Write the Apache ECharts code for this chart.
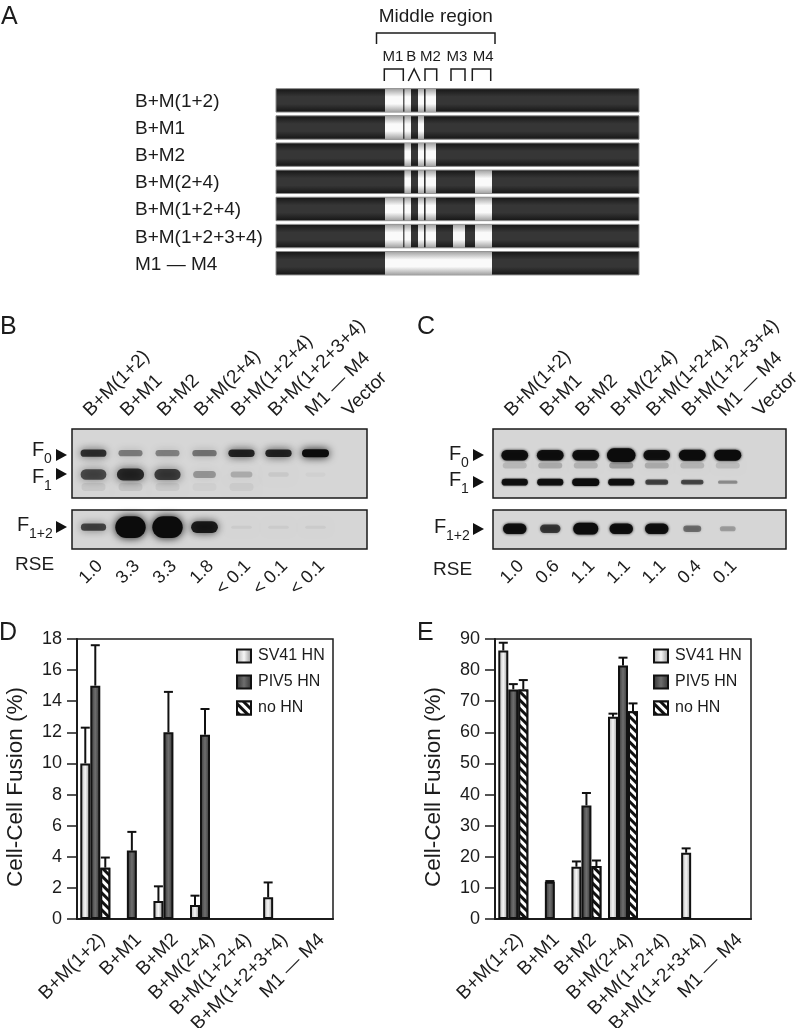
<!DOCTYPE html>
<html>
<head>
<meta charset="utf-8">
<style>html,body{margin:0;padding:0;background:#fff}#main{width:800px;height:1028px}</style>
<script src="https://cdn.jsdelivr.net/npm/echarts@6/dist/echarts.min.js"></script>
</head>
<body>
<div id="main"></div>
<script>
const FONT = '"Liberation Sans", Arial, sans-serif';
const INK = '#1c1c1c';

// panel A
const constructs = ['B+M(1+2)', 'B+M1', 'B+M2', 'B+M(2+4)', 'B+M(1+2+4)', 'B+M(1+2+3+4)', 'M1 — M4'];
const regionSpans = { M1: [109, 127.2], B1: [128.4, 135], B2: [142, 148], M2: [149.6, 160], M3: [177, 189], M4: [199, 216], all: [109, 216] };
const constructRegions = [
	['M1', 'B1', 'B2', 'M2'],
	['M1', 'B1', 'B2'],
	['B1', 'B2', 'M2'],
	['B1', 'B2', 'M2', 'M4'],
	['M1', 'B1', 'B2', 'M2', 'M4'],
	['M1', 'B1', 'B2', 'M2', 'M3', 'M4'],
	['all']
];
const proteinLength = 363;
const middleRegion = [100.5, 219];
const headNames = ['M1', 'B', 'M2', 'M3', 'M4'];
const headCenters = [117, 135.3, 154.5, 181, 207.2];
const headSpans = [[108.3, 127.3], [132.3, 144], [149, 160.7], [175, 189], [196.3, 214.7]];

// panels B and C
const lanes = ['B+M(1+2)', 'B+M1', 'B+M2', 'B+M(2+4)', 'B+M(1+2+4)', 'B+M(1+2+3+4)', 'M1 — M4', 'Vector'];
const rseB = ['1.0', '3.3', '3.3', '1.8', '< 0.1', '< 0.1', '< 0.1', ''];
const rseC = ['1.0', '0.6', '1.1', '1.1', '1.1', '0.4', '0.1', ''];
const bF0 = [0.78, 0.42, 0.4, 0.46, 0.85, 0.85, 1, 0];
const bF1 = [0.72, 0.9, 0.78, 0.34, 0.22, 0.07, 0.03, 0];
const bF12 = [0.65, 1.3, 1.3, 0.85, 0.05, 0.05, 0.05, 0];
const bSmear = [0.07, 0.08, 0.06, 0.03, 0.05, 0, 0, 0];
const cF0 = [0.95, 0.95, 0.95, 1.3, 0.92, 0.98, 1, 0];
const cF1 = [0.92, 0.92, 1, 0.92, 0.62, 0.6, 0.32, 0];
const cF12 = [0.95, 0.68, 1.1, 0.95, 0.95, 0.45, 0.26, 0];
const cSmear = [0.14, 0.2, 0.17, 0.26, 0.2, 0.16, 0.12, 0];

// panels D and E
const categories = ['B+M(1+2)', 'B+M1', 'B+M2', 'B+M(2+4)', 'B+M(1+2+4)', 'B+M(1+2+3+4)', 'M1 — M4'];
const dSv41 = [10, null, 1.15, 0.9, null, 1.4, null];
const dSv41Top = [12.3, null, 2.1, 1.5, null, 2.35, null];
const dPiv5 = [15, 4.4, 12, 11.85, null, null, null];
const dPiv5Top = [17.6, 5.6, 14.6, 13.5, null, null, null];
const dNoHn = [3.3, null, null, null, null, null, null];
const dNoHnTop = [3.95, null, null, null, null, null, null];
const eSv41 = [86.3, null, 16.8, 65, null, 21.3, null];
const eSv41Top = [88.8, null, 18.5, 66, null, 22.7, null];
const ePiv5 = [73.8, 12, 36.5, 81.5, null, null, null];
const ePiv5Top = [75.5, 12.2, 40.5, 84, null, null, null];
const eNoHn = [73.8, null, 17, 66.8, null, null, null];
const eNoHnTop = [76.8, null, 18.8, 69.3, null, null, null];

const BAR_W = 10;
const grid = [], xAxis = [], yAxis = [], series = [], graphic = [];

const vGrad = (a, b) => ({ type: 'linear', x: 0, y: 0, x2: 0, y2: 1, colorStops: [{ offset: 0, color: a }, { offset: 0.35, color: b }, { offset: 0.65, color: b }, { offset: 1, color: a }] });
const hGrad = (a, b, c) => ({ type: 'linear', x: 0, y: 0, x2: 1, y2: 0, colorStops: [{ offset: 0, color: a }, { offset: 0.5, color: b }, { offset: 1, color: c }] });

// A: construct map
grid.push({ left: 276, top: 88, width: 363, height: 190, outerBoundsMode: 'none' });
xAxis.push({ gridIndex: 0, type: 'value', min: 0, max: proteinLength, show: false });
yAxis.push({
	gridIndex: 0, type: 'category', inverse: true, data: constructs,
	axisLine: { show: false }, axisTick: { show: false },
	axisLabel: { align: 'left', margin: 141, fontFamily: FONT, fontSize: 19, color: INK, interval: 0 }
});
const spanRender = (fill, line) => (params, api) => {
	const a = api.coord([api.value(0), api.value(2)]);
	const b = api.coord([api.value(1), api.value(2)]);
	const h = 23.4;
	return { type: 'rect', shape: { x: a[0], y: a[1] - h / 2 - 1.2, width: b[0] - a[0], height: h }, style: { fill: fill, stroke: line, lineWidth: line ? 1 : 0 } };
};
series.push({
	type: 'custom', xAxisIndex: 0, yAxisIndex: 0, silent: true,
	renderItem: spanRender(vGrad('#141414', '#363636'), '#8a8a8a'),
	encode: { x: [0, 1], y: 2 },
	data: constructs.map((c, i) => [0, proteinLength, i])
});
series.push({
	type: 'custom', xAxisIndex: 0, yAxisIndex: 0, silent: true,
	renderItem: spanRender(vGrad('#a0a0a0', '#fafafa'), null),
	encode: { x: [0, 1], y: 2 },
	data: constructRegions.flatMap((list, i) => list.map(k => [regionSpans[k][0], regionSpans[k][1], i]))
});
// bracket over the map, offsets are from the top of the map
series.push({
	type: 'custom', xAxisIndex: 0, yAxisIndex: 0, silent: true,
	encode: { x: [0, 1] },
	data: headNames.map((n, i) => [headSpans[i][0], headSpans[i][1], i]),
	renderItem: (params, api) => {
		const top = params.coordSys.y;
		const i = api.value(2);
		const x0 = api.coord([api.value(0), 0])[0];
		const x1 = api.coord([api.value(1), 0])[0];
		const mid = api.coord([headCenters[i], 0])[0];
		const pts = headNames[i] === 'B'
			? [[x0, top - 7], [(x0 + x1) / 2, top - 19], [x1, top - 7]]
			: [[x0, top - 7], [x0, top - 19], [x1, top - 19], [x1, top - 7]];
		return {
			type: 'group', children: [
				{ type: 'polyline', shape: { points: pts }, style: { fill: null, stroke: INK, lineWidth: 1.5 } },
				{ type: 'text', style: { x: mid, y: top - 31, text: headNames[i], align: 'center', verticalAlign: 'middle', font: '15px ' + FONT, fill: INK } }
			]
		};
	}
});
series.push({
	type: 'custom', xAxisIndex: 0, yAxisIndex: 0, silent: true,
	encode: { x: [0, 1] },
	data: [middleRegion],
	renderItem: (params, api) => {
		const top = params.coordSys.y;
		const x0 = api.coord([api.value(0), 0])[0];
		const x1 = api.coord([api.value(1), 0])[0];
		return {
			type: 'group', children: [
				{ type: 'polyline', shape: { points: [[x0, top - 44], [x0, top - 55], [x1, top - 55], [x1, top - 44]] }, style: { fill: null, stroke: INK, lineWidth: 1.5 } },
				{ type: 'text', style: { x: (x0 + x1) / 2, y: top - 71, text: 'Middle region', align: 'center', verticalAlign: 'middle', font: '19px ' + FONT, fill: INK } }
			]
		};
	}
});

// B, C: blots
const bandRender = (o) => (params, api) => {
	const p = api.coord([api.value(0), api.value(1)]);
	const s = api.value(2);
	if (!s) return null;
	const a = Math.min(1, s * o.dark);
	const w = o.w + o.wGain * s;
	const h = Math.max(3, o.h + o.hGain * s);
	const col = 'rgba(12,12,12,' + a + ')';
	return {
		type: 'rect',
		shape: { x: p[0] - w / 2, y: p[1] - h / 2, width: w, height: h, r: h / 2 },
		style: { fill: col, shadowBlur: o.blur, shadowColor: col }
	};
};
const addBlot = (left, width, topUp, hUp, topLow, hLow, rse, rows, rowsLow) => {
	const up = grid.length;
	grid.push({ left: left, width: width, top: topUp, height: hUp, outerBoundsMode: 'none' });
	xAxis.push({
		gridIndex: up, type: 'category', position: 'top', data: lanes,
		axisLine: { show: false }, axisTick: { show: false },
		axisLabel: { interval: 0, rotate: 45, margin: 9, fontFamily: FONT, fontSize: 19, color: INK, verticalAlign: 'bottom' }
	});
	yAxis.push({ gridIndex: up, type: 'value', min: 0, max: 100, inverse: true, show: false });
	const low = grid.length;
	grid.push({ left: left, width: width, top: topLow, height: hLow, outerBoundsMode: 'none' });
	xAxis.push({
		gridIndex: low, type: 'category', position: 'bottom', data: rse,
		axisLine: { show: false }, axisTick: { show: false },
		axisLabel: { interval: 0, rotate: 45, margin: 8, fontFamily: FONT, fontSize: 18, color: INK, verticalAlign: 'top' }
	});
	yAxis.push({ gridIndex: low, type: 'value', min: 0, max: 100, inverse: true, show: false });
	rows.forEach(r => series.push({
		type: 'custom', xAxisIndex: up, yAxisIndex: up, silent: true, clip: false,
		encode: { x: 0, y: 1 }, renderItem: bandRender(r.look),
		data: r.values.map((s, i) => [i, r.y, s])
	}));
	rowsLow.forEach(r => series.push({
		type: 'custom', xAxisIndex: low, yAxisIndex: low, silent: true, clip: false,
		encode: { x: 0, y: 1 }, renderItem: bandRender(r.look),
		data: r.values.map((s, i) => [i, r.y, s])
	}));
};
addBlot(75, 296, 429, 69, 510, 39, rseB,
	[
		{ y: 84, values: bSmear, look: { dark: 1, w: 24, wGain: 0, h: 8, hGain: 0, blur: 8 } },
		{ y: 35, values: bF0, look: { dark: 1, w: 22, wGain: 5, h: 5, hGain: 3, blur: 8 } },
		{ y: 66, values: bF1, look: { dark: 0.9, w: 20, wGain: 8, h: 4, hGain: 9, blur: 10 } }
	],
	[{ y: 44, values: bF12, look: { dark: 1.05, w: 20, wGain: 8, h: -7.5, hGain: 22.5, blur: 8 } }]);
addBlot(497, 284, 429, 69, 510, 39, rseC,
	[
		{ y: 53, values: cSmear, look: { dark: 1, w: 24, wGain: 0, h: 6, hGain: 0, blur: 6 } },
		{ y: 38, values: cF0, look: { dark: 1, w: 22, wGain: 5, h: 2, hGain: 9, blur: 3 } },
		{ y: 77, values: cF1, look: { dark: 1, w: 16, wGain: 11, h: 1, hGain: 6.5, blur: 2 } }
	],
	[{ y: 48, values: cF12, look: { dark: 1, w: 13, wGain: 11, h: 3, hGain: 8, blur: 3 } }]);

// D, E: bar charts
const addBars = (left, yMax, yStep, sv, svTop, piv, pivTop, no, noTop) => {
	const g = grid.length;
	grid.push({ show: true, left: left, width: 256, top: 639, height: 280, borderColor: INK, borderWidth: 1.5, outerBoundsMode: 'none' });
	xAxis.push({
		gridIndex: g, type: 'category', data: categories,
		axisLine: { lineStyle: { color: INK, width: 2 } },
		axisTick: { length: 8, lineStyle: { color: INK, width: 1.5 } },
		axisLabel: { interval: 0, rotate: 45, margin: 11, fontFamily: FONT, fontSize: 19, color: INK, verticalAlign: 'top' }
	});
	yAxis.push({
		gridIndex: g, type: 'value', min: 0, max: yMax, interval: yStep,
		name: 'Cell-Cell Fusion (%)', nameLocation: 'middle', nameGap: 50, nameRotate: 90,
		nameTextStyle: { fontFamily: FONT, fontSize: 22.5, color: INK, padding: [0, 16, 0, 0] },
		axisLine: { show: true, lineStyle: { color: INK, width: 2 } },
		axisTick: { show: true, length: 10, lineStyle: { color: INK, width: 1.5 } },
		splitLine: { show: false },
		axisLabel: { margin: 15, fontFamily: FONT, fontSize: 18, color: INK }
	});
	const bar = (name, values, itemStyle) => ({
		name: name, type: 'bar', xAxisIndex: g, yAxisIndex: g, data: values, barWidth: BAR_W, barGap: '0%',
		itemStyle: Object.assign({ borderColor: '#111', borderWidth: 2 }, itemStyle)
	});
	series.push(bar('SV41 HN', sv, { color: hGrad('#a8a8a8', '#f6f6f6', '#8f8f8f') }));
	series.push(bar('PIV5 HN', piv, { color: hGrad('#303030', '#6e6e6e', '#303030') }));
	series.push(bar('no HN', no, {
		color: '#fff',
		decal: { symbol: 'rect', symbolSize: 1, dashArrayX: [1, 0], dashArrayY: [3, 3], rotation: Math.PI / 4, color: '#111', backgroundColor: '#fff' }
	}));
	const errRows = [];
	[[sv, svTop, -1], [piv, pivTop, 0], [no, noTop, 1]].forEach(t => t[1].forEach((top, i) => {
		if (top !== null) errRows.push([i, t[0][i], top, t[2]]);
	}));
	series.push({
		type: 'custom', name: 'error', xAxisIndex: g, yAxisIndex: g, silent: true, z: 5,
		encode: { x: 0, y: [1, 2] },
		data: errRows,
		renderItem: (params, api) => {
			const a = api.coord([api.value(0), api.value(1)]);
			const b = api.coord([api.value(0), api.value(2)]);
			const x = a[0] + api.value(3) * BAR_W;
			const line = { stroke: '#111', lineWidth: 2 };
			return {
				type: 'group', children: [
					{ type: 'line', shape: { x1: x, y1: a[1], x2: x, y2: b[1] }, style: line },
					{ type: 'line', shape: { x1: x - 4.5, y1: b[1], x2: x + 4.5, y2: b[1] }, style: line }
				]
			};
		}
	});
};
addBars(77, 18, 2, dSv41, dSv41Top, dPiv5, dPiv5Top, dNoHn, dNoHnTop);
addBars(495, 90, 10, eSv41, eSv41Top, ePiv5, ePiv5Top, eNoHn, eNoHnTop);

// gel frames: plain grids with no axes, kept last so grid and axis indexes stay equal
[[72, 295, 429, 69], [72, 295, 510, 39], [493, 293, 429, 69], [493, 293, 510, 39]].forEach(g => grid.push({
	show: true, left: g[0], width: g[1], top: g[2], height: g[3],
	backgroundColor: '#d6d6d6', borderColor: '#1a1a1a', borderWidth: 1.5
}));

const legendAt = (left) => ({
	left: left, top: 648, orient: 'vertical', itemWidth: 14, itemHeight: 13, itemGap: 10, itemStyle: { borderWidth: 2 },
	selectedMode: false, padding: 0, icon: 'rect', data: ['SV41 HN', 'PIV5 HN', 'no HN'],
	textStyle: { fontFamily: FONT, fontSize: 16, color: INK, padding: [0, 0, 0, 2] }
});

// panel letters and band tags
[['A', 1, 18], ['B', 0, 328], ['C', 417, 328], ['D', -1, 634], ['E', 417, 634]].forEach(t => graphic.push({
	type: 'text', left: t[1], top: t[2] - 13, style: { text: t[0], font: '25px ' + FONT, fill: INK }
}));
const tag = (x, y, sub) => {
	graphic.push({ type: 'text', left: x, top: y - 11, style: { text: 'F', font: '20px ' + FONT, fill: INK } });
	graphic.push({ type: 'text', left: x + 12, top: y + 1, style: { text: sub, font: '14px ' + FONT, fill: INK } });
};
const tri = (x, y) => graphic.push({ type: 'polygon', shape: { points: [[x, y - 6], [x + 11, y], [x, y + 6]] }, style: { fill: '#111' } });
tag(32, 451, '0'); tri(56, 455);
tag(32, 478, '1'); tri(56, 474);
tag(17, 526, '1+2'); tri(56, 527);
tag(449, 455, '0'); tri(473, 455);
tag(449, 481, '1'); tri(473, 482);
tag(434, 528, '1+2'); tri(473, 529);
graphic.push({ type: 'text', left: 15, top: 555, style: { text: 'RSE', font: '19px ' + FONT, fill: INK } });
graphic.push({ type: 'text', left: 433, top: 560, style: { text: 'RSE', font: '19px ' + FONT, fill: INK } });

const chart = echarts.init(document.getElementById('main'), null, { renderer: 'canvas' });
chart.setOption({
	animation: false,
	backgroundColor: '#fff',
	textStyle: { fontFamily: FONT },
	grid, xAxis, yAxis, series,
	legend: [legendAt(236), legendAt(653)],
	graphic
});
</script>
</body>
</html>
